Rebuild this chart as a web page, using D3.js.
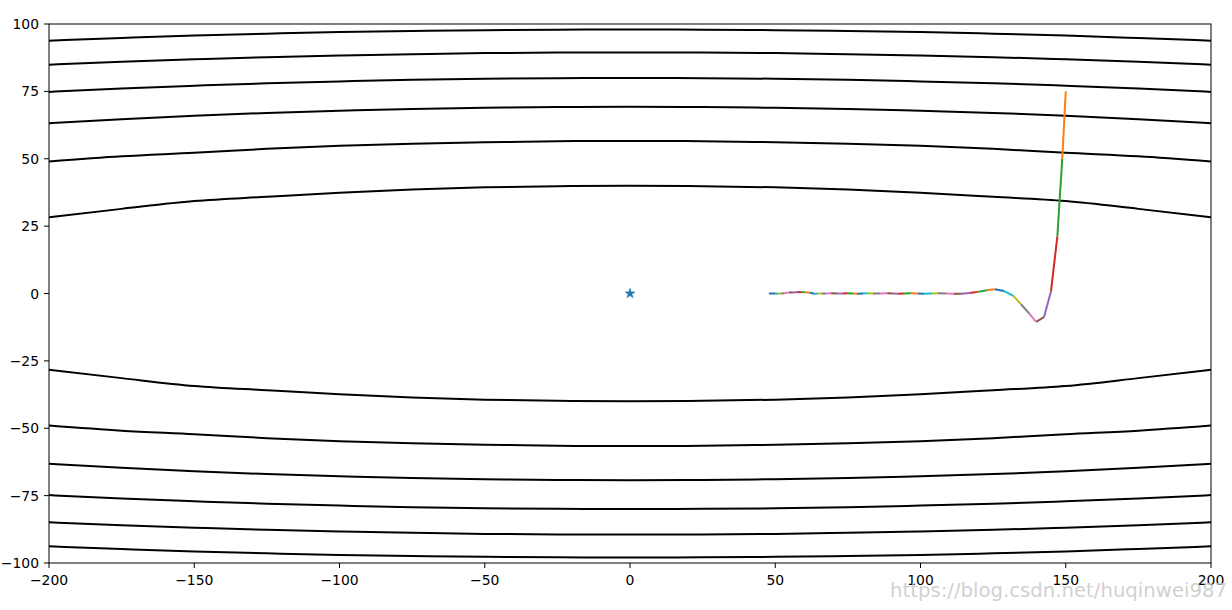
<!DOCTYPE html>
<html>
<head>
<meta charset="utf-8">
<script src="https://cdn.jsdelivr.net/npm/d3@7"></script>
<style>
  html, body { margin: 0; padding: 0; background: #fff; }
  svg { display: block; }
  text { font-family: "DejaVu Sans", sans-serif; }
</style>
</head>
<body>
<svg id="chart" width="1232" height="610"></svg>
<script>
// ---- Data ----
const xTicks = [-200, -150, -100, -50, 0, 50, 100, 150, 200];
const yTicks = [-100, -75, -50, -25, 0, 25, 50, 75, 100];

// contour lines: y-values sampled at these x positions
const contourX = [-200, -175, -150, -125, -100, -75, -50, -25, 0, 25, 50, 75, 100, 125, 150, 175, 200];
const contour1Upper = [28.3, 31.4, 34.3, 35.9, 37.4, 38.6, 39.4, 39.8, 40.0, 39.8, 39.4, 38.6, 37.4, 35.9, 34.3, 31.4, 28.3];
const contour2Upper = [49.0, 50.9, 52.2, 53.7, 54.8, 55.6, 56.1, 56.5, 56.6, 56.5, 56.1, 55.6, 54.8, 53.7, 52.2, 50.9, 49.0];
const contour3Upper = [63.2, 64.7, 66.0, 67.0, 67.8, 68.5, 68.9, 69.2, 69.3, 69.2, 68.9, 68.5, 67.8, 67.0, 66.0, 64.7, 63.2];
const contour4Upper = [74.8, 76.1, 77.1, 78.0, 78.7, 79.3, 79.7, 79.9, 80.0, 79.9, 79.7, 79.3, 78.7, 78.0, 77.1, 76.1, 74.8];
const contour5Upper = [84.9, 86.0, 86.9, 87.7, 88.3, 88.8, 89.2, 89.4, 89.4, 89.4, 89.2, 88.8, 88.3, 87.7, 86.9, 86.0, 84.9];
const contour6Upper = [93.8, 94.8, 95.7, 96.4, 97.0, 97.4, 97.7, 97.9, 98.0, 97.9, 97.7, 97.4, 97.0, 96.4, 95.7, 94.8, 93.8];
const contour1Lower = [-28.3, -31.4, -34.3, -35.9, -37.4, -38.6, -39.4, -39.8, -40.0, -39.8, -39.4, -38.6, -37.4, -35.9, -34.3, -31.4, -28.3];
const contour2Lower = [-49.0, -50.9, -52.2, -53.7, -54.8, -55.6, -56.1, -56.5, -56.6, -56.5, -56.1, -55.6, -54.8, -53.7, -52.2, -50.9, -49.0];
const contour3Lower = [-63.2, -64.7, -66.0, -67.0, -67.8, -68.5, -68.9, -69.2, -69.3, -69.2, -68.9, -68.5, -67.8, -67.0, -66.0, -64.7, -63.2];
const contour4Lower = [-74.8, -76.1, -77.1, -78.0, -78.7, -79.3, -79.7, -79.9, -80.0, -79.9, -79.7, -79.3, -78.7, -78.0, -77.1, -76.1, -74.8];
const contour5Lower = [-84.9, -86.0, -86.9, -87.7, -88.3, -88.8, -89.2, -89.4, -89.4, -89.4, -89.2, -88.8, -88.3, -87.7, -86.9, -86.0, -84.9];
const contour6Lower = [-93.8, -94.8, -95.7, -96.4, -97.0, -97.4, -97.7, -97.9, -98.0, -97.9, -97.7, -97.4, -97.0, -96.4, -95.7, -94.8, -93.8];

// optimisation path
const pathX = [150, 148.8, 147.1, 144.9, 142.5, 139.8, 137.4, 134.6, 132.0, 128.8,
  125.5, 122.8, 119.7, 116.9, 114.2, 111.5, 108.8, 106.0, 104.0, 101.2,
  99.1, 96.7, 94.3, 92.3, 90.5, 88.5, 86.1, 83.6, 81.9, 80.2,
  78.1, 76.8, 74.7, 73.3, 71.3, 69.2, 67.5, 66.1, 64.7, 63.3,
  62.0, 60.2, 58.9, 57.5, 56.1, 54.7, 53.0, 52.0, 51.0, 49.9, 47.8];
const pathY = [75, 50, 21.1, 0.7, -8.8, -10.5, -7.4, -4.0, -0.9, 0.9,
  1.6, 1.2, 0.6, 0.2, -0.1, -0.1, 0.0, 0.1, 0.0, -0.1,
  0.0, 0.1, 0.0, -0.1, 0.0, 0.1, 0.0, 0.0, 0.1, 0.0,
  -0.1, 0.0, 0.1, 0.0, 0.0, 0.1, 0.0, 0.0, 0.0, -0.1,
  0.3, 0.5, 0.5, 0.5, 0.4, 0.4, 0.1, 0.0, -0.1, 0.0, 0.0];

const minimum = [[0, 0]];
const palette = ['#1f77b4','#ff7f0e','#2ca02c','#d62728','#9467bd','#8c564b','#e377c2','#7f7f7f','#bcbd22','#17becf'];
const watermark = "https://blog.csdn.net/huqinwei987";

// ---- Layout ----
const mLeft = 49, mRight = 1211, mTop = 24, mBottom = 563;
const svg = d3.select('#chart');
const x = d3.scaleLinear().domain([-200, 200]).range([mLeft, mRight]);
const y = d3.scaleLinear().domain([-100, 100]).range([mBottom, mTop]);

svg.append('defs').append('clipPath').attr('id', 'clip')
  .append('rect').attr('x', mLeft).attr('y', mTop).attr('width', mRight - mLeft).attr('height', mBottom - mTop);

const plot = svg.append('g').attr('clip-path', 'url(#clip)');

const contours = [contour1Upper, contour2Upper, contour3Upper, contour4Upper, contour5Upper, contour6Upper,
                  contour1Lower, contour2Lower, contour3Lower, contour4Lower, contour5Lower, contour6Lower];
const cLine = d3.line().x((d, i) => x(contourX[i])).y(d => y(d)).curve(d3.curveMonotoneX);
contours.forEach(c => {
  plot.append('path').attr('d', cLine(c)).attr('fill', 'none')
    .attr('stroke', '#000').attr('stroke-width', 2);
});

// star at minimum
plot.selectAll('.star').data(minimum).enter().append('path')
  .attr('d', d3.symbol().type(d3.symbolStar).size(30))
  .attr('transform', d => `translate(${x(d[0])},${y(d[1])})`)
  .attr('fill', palette[0]).attr('stroke', palette[0]).attr('stroke-width', 0.6);

// path segments, each its own colour
const seg = d3.line().x(d => x(d[0])).y(d => y(d[1]));
for (let i = 0; i < pathX.length - 1; i++) {
  plot.append('path')
    .attr('d', seg([[pathX[i], pathY[i]], [pathX[i + 1], pathY[i + 1]]]))
    .attr('fill', 'none')
    .attr('stroke', palette[(i + 1) % 10])
    .attr('stroke-width', 2)
    .attr('stroke-linecap', 'butt');
}

// frame
svg.append('rect').attr('x', mLeft).attr('y', mTop).attr('width', mRight - mLeft).attr('height', mBottom - mTop)
  .attr('fill', 'none').attr('stroke', '#000').attr('stroke-width', 1);

const fmt = v => (v < 0 ? '\u2212' + Math.abs(v) : String(v));

// x axis
const xa = svg.append('g');
xTicks.forEach(t => {
  xa.append('line').attr('x1', x(t)).attr('x2', x(t)).attr('y1', mBottom).attr('y2', mBottom + 5)
    .attr('stroke', '#000').attr('stroke-width', 1);
  xa.append('text').attr('x', x(t)).attr('y', mBottom + 22).attr('text-anchor', 'middle')
    .attr('font-size', '13.9px').attr('fill', '#000').text(fmt(t));
});
// y axis
const ya = svg.append('g');
yTicks.forEach(t => {
  ya.append('line').attr('x1', mLeft - 5).attr('x2', mLeft).attr('y1', y(t)).attr('y2', y(t))
    .attr('stroke', '#000').attr('stroke-width', 1);
  ya.append('text').attr('x', mLeft - 10).attr('y', y(t)).attr('dy', '0.36em').attr('text-anchor', 'end')
    .attr('font-size', '13.9px').attr('fill', '#000').text(fmt(t));
});

// watermark
svg.append('text').attr('x', 890).attr('y', 597)
  .attr('font-family', '"Liberation Serif", serif').attr('font-size', '20px')
  .attr('fill', '#c8c8c8').attr('fill-opacity', 0.85)
  .attr('textLength', 337).attr('lengthAdjust', 'spacingAndGlyphs')
  .text(watermark);
</script>
</body>
</html>
